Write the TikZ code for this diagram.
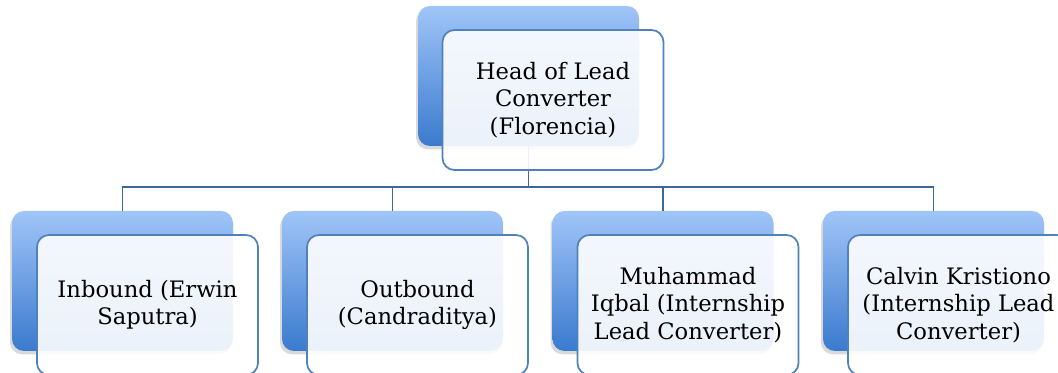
\documentclass[tikz,border=0pt]{standalone}
\usepackage{fontspec}
\setmainfont{DejaVu Serif}
\usetikzlibrary{shadows}

\definecolor{backtop}{RGB}{160,197,248}
\definecolor{backbot}{RGB}{58,122,206}
\definecolor{frameblue}{RGB}{79,129,189}
\definecolor{linkblue}{RGB}{61,104,156}

\begin{document}
\begin{tikzpicture}[x=0.75pt,y=-0.75pt,
    backbox/.style={rounded corners=9pt, minimum width=165.75pt, minimum height=105pt,
        top color=backtop, bottom color=backbot, draw=none,
        drop shadow={shadow xshift=-1.5pt, shadow yshift=-2.5pt, opacity=0.3}},
    frontbox/.style={rounded corners=9pt, minimum width=165.75pt, minimum height=105pt,
        draw=frameblue, line width=1.3pt, fill=white, fill opacity=0.9, text opacity=1,
        align=center, font=\fontsize{17}{20.6}\selectfont},
    link/.style={draw=linkblue, line width=1.4pt}]
            \clip (0,0) rectangle (1058,373);
            % head
            \node[backbox] (hb) at (528.5, 76) {};
            % staff
            \node[backbox] (b1) at (122.5, 281) {};
            \node[backbox] (b2) at (392.5, 281) {};
            \node[backbox] (b3) at (663, 281) {};
            \node[backbox] (b4) at (933.5, 281) {};
            \draw[link] (hb.south) -- ++(0,41) -| (b1.north);
            \draw[link] (hb.south) -- ++(0,41) -| (b2.north);
            \draw[link] (hb.south) -- ++(0,41) -| (b3.north);
            \draw[link] (hb.south) -- ++(0,41) -| (b4.north);
            \node[frontbox] (hf) at (553, 100) {Head of Lead\\Converter\\(Florencia)};
            \node[frontbox] (f1) at (147.5, 305) {Inbound (Erwin\\Saputra)};
            \node[frontbox] (f2) at (417.5, 305) {Outbound\\(Candraditya)};
            \node[frontbox] (f3) at (688, 305) {Muhammad\\Iqbal (Internship\\Lead Converter)};
            \node[frontbox] (f4) at (958.5, 305) {Calvin Kristiono\\(Internship Lead\\Converter)};
        \end{tikzpicture}
\end{document}
